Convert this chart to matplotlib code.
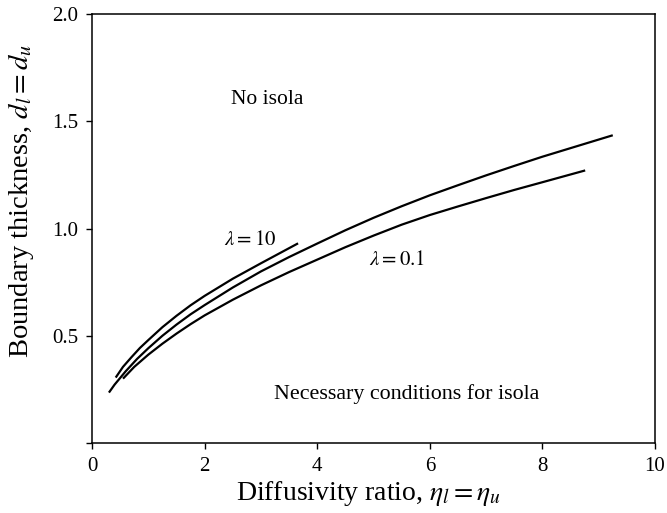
import matplotlib
matplotlib.use("Agg")
from matplotlib import pyplot as plt

#
# Data
#
lam10_x = [0.42, 0.55, 0.7, 0.85, 1.0, 1.25, 1.5, 1.75, 2.0, 2.5, 3.0, 3.66]
lam10_y = [0.305, 0.355, 0.400, 0.443, 0.480, 0.540, 0.593, 0.642, 0.686, 0.766, 0.838, 0.931]

mid_x = [0.30, 0.4, 0.6, 0.8, 1.0, 1.25, 1.5, 1.75, 2.0, 2.5, 3.0, 3.5,
         4.0, 4.5, 5.0, 5.5, 6.0, 6.5, 7.0, 7.5, 8.0, 8.5, 9.25]
mid_y = [0.235, 0.272, 0.335, 0.392, 0.442, 0.500, 0.552, 0.600, 0.643, 0.725, 0.800,
         0.867, 0.930, 0.992, 1.050, 1.104, 1.155, 1.202, 1.248, 1.292, 1.335, 1.375, 1.435]

lam01_x = [0.55, 0.75, 1.0, 1.25, 1.5, 1.75, 2.0, 2.5, 3.0, 3.5, 4.0, 4.5,
           5.0, 5.5, 6.0, 6.5, 7.0, 7.5, 8.0, 8.76]
lam01_y = [0.300, 0.355, 0.412, 0.463, 0.510, 0.554, 0.595, 0.668, 0.735, 0.797, 0.855, 0.913,
           0.967, 1.018, 1.063, 1.103, 1.142, 1.180, 1.216, 1.271]

x_ticks = [0, 2, 4, 6, 8, 10]
y_ticks = [0, 0.5, 1.0, 1.5, 2.0]
y_tick_labels = ["", "0.5", "1.0", "1.5", "2.0"]

#
# Style
#
plt.rcParams["font.family"] = ["Liberation Serif", "DejaVu Serif"]
plt.rcParams["mathtext.fontset"] = "stix"

fig = plt.figure(figsize=(6.67, 5.13), dpi=100)
ax = fig.add_axes([0.138, 0.1365, 0.844, 0.836])

for xs, ys in [(lam10_x, lam10_y), (mid_x, mid_y), (lam01_x, lam01_y)]:
    ax.plot(xs, ys, color="black", linewidth=1.6,
            solid_capstyle="butt", solid_joinstyle="round")

ax.set_xlim(0, 10)
ax.set_ylim(0, 2.0)
ax.set_xticks(x_ticks)
ax.set_yticks(y_ticks)
ax.set_yticklabels(y_tick_labels)
ax.tick_params(direction="out", length=4, width=1.0, labelsize=15, pad=6)
for spine in ax.spines.values():
    spine.set_linewidth(1.1)

ax.set_xlabel(r"Diffusivity ratio, $\eta_l = \eta_u$", fontsize=20, labelpad=2)
ax.xaxis.set_label_coords(0.49, -0.085)
ax.set_ylabel(r"Boundary thickness, $d_l = d_u$", fontsize=20.5)
ax.yaxis.set_label_coords(-0.1, 0.565)

# Annotations
ax.text(2.47, 1.60, "No isola", fontsize=15.5, va="center", ha="left")
ax.text(2.34, 0.944, r"$\lambda = 10$", fontsize=15, va="center", ha="left")
ax.text(4.92, 0.85, r"$\lambda = 0.1$", fontsize=15, va="center", ha="left")
ax.text(3.23, 0.23, "Necessary conditions for isola", fontsize=15.8,
        va="center", ha="left")

fig.savefig("out.png", dpi=100)
plt.close(fig)
